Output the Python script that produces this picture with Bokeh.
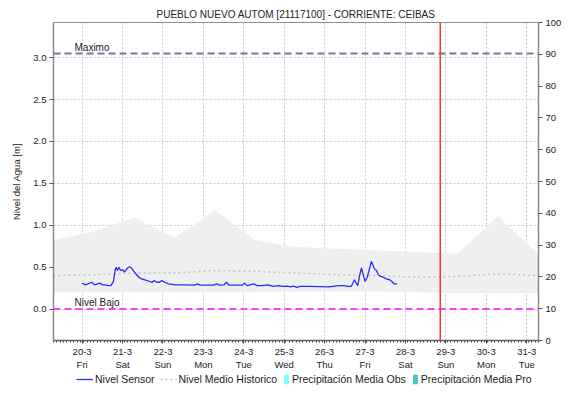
import pandas as pd
from bokeh.plotting import figure
from bokeh.layouts import column
from bokeh.models import (Range1d, LinearAxis, FixedTicker, Span, Label, Legend,
                          LegendItem, ColumnDataSource, NumeralTickFormatter)
from bokeh.embed import file_html
from bokeh.resources import INLINE

# ---------------- data ----------------
TITLE = "PUEBLO NUEVO AUTOM [21117100] - CORRIENTE: CEIBAS"

x_start = "2020-03-19 07:00"
x_end = "2020-03-31 07:00"
y_left_range = (-0.375, 3.42)
y_right_range = (0, 100)

day_ticks = ["2020-03-20", "2020-03-21", "2020-03-22", "2020-03-23", "2020-03-24",
             "2020-03-25", "2020-03-26", "2020-03-27", "2020-03-28", "2020-03-29",
             "2020-03-30", "2020-03-31"]
day_labels = ["20-3\nFri", "21-3\nSat", "22-3\nSun", "23-3\nMon", "24-3\nTue",
              "25-3\nWed", "26-3\nThu", "27-3\nFri", "28-3\nSat", "29-3\nSun",
              "30-3\nMon", "31-3\nTue"]
left_ticks = [0.0, 0.5, 1.0, 1.5, 2.0, 2.5, 3.0]
right_ticks = [0, 10, 20, 30, 40, 50, 60, 70, 80, 90, 100]

sensor_time = [
    "2020-03-20 00:00", "2020-03-20 01:45", "2020-03-20 03:25", "2020-03-20 05:40",
    "2020-03-20 07:25", "2020-03-20 09:05", "2020-03-20 10:30", "2020-03-20 12:00",
    "2020-03-20 13:40", "2020-03-20 15:25", "2020-03-20 17:05", "2020-03-20 18:35",
    "2020-03-20 19:40", "2020-03-20 20:15", "2020-03-20 20:55", "2020-03-20 21:50",
    "2020-03-20 22:50", "2020-03-20 23:55", "2020-03-21 01:05", "2020-03-21 02:10",
    "2020-03-21 03:32", "2020-03-21 04:47", "2020-03-21 05:38", "2020-03-21 07:05",
    "2020-03-21 08:20", "2020-03-21 09:38", "2020-03-21 11:10", "2020-03-21 13:03",
    "2020-03-21 15:54", "2020-03-21 17:37", "2020-03-21 18:45", "2020-03-21 20:28",
    "2020-03-21 21:53", "2020-03-21 23:19", "2020-03-22 01:02", "2020-03-22 03:18",
    "2020-03-22 07:18", "2020-03-22 13:00", "2020-03-22 18:42", "2020-03-22 20:35",
    "2020-03-22 22:08", "2020-03-23 06:07", "2020-03-23 08:00", "2020-03-23 09:32",
    "2020-03-23 12:23", "2020-03-23 13:41", "2020-03-23 15:14", "2020-03-23 23:13",
    "2020-03-24 00:21", "2020-03-24 02:03", "2020-03-24 03:46", "2020-03-24 05:54",
    "2020-03-24 07:47", "2020-03-24 10:38", "2020-03-24 14:26", "2020-03-24 17:17",
    "2020-03-24 20:52", "2020-03-24 22:59", "2020-03-25 01:50", "2020-03-25 03:43",
    "2020-03-25 05:37", "2020-03-25 07:31", "2020-03-25 09:25", "2020-03-25 15:07",
    "2020-03-26 02:31", "2020-03-26 08:13", "2020-03-26 11:04", "2020-03-26 13:55",
    "2020-03-26 15:48", "2020-03-26 17:42", "2020-03-26 18:44", "2020-03-26 19:38",
    "2020-03-26 20:46", "2020-03-26 21:54", "2020-03-26 23:03", "2020-03-27 00:00",
    "2020-03-27 01:19", "2020-03-27 03:46", "2020-03-27 04:44", "2020-03-27 05:41",
    "2020-03-27 06:43", "2020-03-27 07:59", "2020-03-27 09:17", "2020-03-27 10:48",
    "2020-03-27 12:41", "2020-03-27 14:35", "2020-03-27 15:57", "2020-03-27 17:26",
    "2020-03-27 19:00"]
sensor_level = [
    0.31, 0.29, 0.30, 0.32, 0.29, 0.30, 0.31, 0.29,
    0.29, 0.28, 0.28, 0.33, 0.47, 0.50, 0.46, 0.50,
    0.46, 0.47, 0.44, 0.47, 0.50, 0.50, 0.48, 0.44,
    0.41, 0.38, 0.36, 0.35, 0.33, 0.32, 0.34, 0.32,
    0.32, 0.34, 0.32, 0.30, 0.29, 0.29, 0.285, 0.30,
    0.285, 0.285, 0.30, 0.285, 0.29, 0.32, 0.285, 0.285,
    0.31, 0.28, 0.29, 0.30, 0.28, 0.28, 0.29, 0.27,
    0.28, 0.27, 0.275, 0.265, 0.275, 0.26, 0.27, 0.27,
    0.265, 0.28, 0.28, 0.27, 0.27, 0.35, 0.31, 0.28,
    0.40, 0.49, 0.40, 0.33, 0.38, 0.57, 0.52, 0.48,
    0.46, 0.41, 0.39, 0.38, 0.36, 0.35, 0.33, 0.30,
    0.30]

hist_time = ["2020-03-19 07:00", "2020-03-20 07:00", "2020-03-21 07:00", "2020-03-22 07:00",
             "2020-03-23 07:00", "2020-03-24 07:00", "2020-03-25 07:00", "2020-03-26 07:00",
             "2020-03-27 07:00", "2020-03-28 07:00", "2020-03-29 07:00", "2020-03-30 07:00",
             "2020-03-31 07:00"]
hist_upper = [0.82, 0.93, 1.09, 0.85, 1.18, 0.82, 0.74, 0.72, 0.70, 0.68, 0.66, 1.11, 0.65]
hist_lower = [0.20, 0.20, 0.20, 0.20, 0.20, 0.20, 0.21, 0.21, 0.21, 0.20, 0.19, 0.19, 0.19]
hist_median = [0.40, 0.41, 0.43, 0.43, 0.46, 0.45, 0.43, 0.41, 0.40, 0.38, 0.39, 0.42, 0.40]

# daily precipitation (mm) - none recorded / forecast in this window
precip_obs_time = ["2020-03-20", "2020-03-21", "2020-03-22", "2020-03-23", "2020-03-24",
                   "2020-03-25", "2020-03-26", "2020-03-27", "2020-03-28"]
precip_obs = [0, 0, 0, 0, 0, 0, 0, 0, 0]
precip_pro_time = ["2020-03-29", "2020-03-30", "2020-03-31"]
precip_pro = [0, 0, 0]

nivel_maximo = 3.05
nivel_bajo = 0.0
now_time = "2020-03-28 20:40"

# ---------------- figure ----------------
FONT = "Liberation Sans"
ts = pd.to_datetime
W = 564

p = figure(width=W, height=372, x_axis_type="datetime",
           x_range=Range1d(ts(x_start), ts(x_end)),
           y_range=Range1d(*y_left_range),
           output_backend="svg", toolbar_location=None,
           min_border_left=53, min_border_right=23, min_border_top=22, min_border_bottom=0,
           background_fill_color="white", border_fill_color="white")
p.extra_y_ranges = {"pct": Range1d(*y_right_range)}

p.title.text = TITLE
p.title.align = "center"
p.title.text_font = FONT
p.title.text_font_size = "10px"
p.title.text_font_style = "normal"
p.title.text_color = "#222222"
p.title.standoff = 6

p.outline_line_color = "#8c8c8c"
p.outline_line_width = 1

# band and median
hsrc = ColumnDataSource(dict(t=ts(hist_time), lo=hist_lower, hi=hist_upper, med=hist_median))
p.varea(x="t", y1="lo", y2="hi", source=hsrc, fill_color="#efefef")
med_style = dict(line_color="#c4c4c4", line_width=1.5, line_dash="2 3")
p.line(x="t", y="med", source=hsrc, **med_style)

# ticks / grid
ms_ticks = [int(ts(d).value // 10**6) for d in day_ticks]
minor = []
t = ts(x_start)
while t <= ts(x_end):
    minor.append(int(t.value // 10**6))
    t += pd.Timedelta(hours=2)

p.xaxis.ticker = FixedTicker(ticks=ms_ticks, minor_ticks=minor)
p.xaxis.major_label_overrides = {k: v for k, v in zip(ms_ticks, day_labels)}
p.yaxis.ticker = FixedTicker(ticks=left_ticks)
p.yaxis.formatter = NumeralTickFormatter(format="0.0")

for g in (p.xgrid, p.ygrid):
    g.grid_line_color = "#c8c8c8"
    g.grid_line_dash = "2 2"
    g.grid_line_width = 1

# threshold lines
p.add_layout(Span(location=nivel_maximo, dimension="width", line_color="#6b7aa6",
                  line_width=2, line_dash="7 4"))
p.add_layout(Span(location=nivel_bajo, dimension="width", line_color="#ff3cff",
                  line_width=2, line_dash="7 4"))
p.add_layout(Label(x=21, x_units="screen", y=nivel_maximo, y_offset=1, text="Maximo",
                   text_font=FONT, text_font_size="10px", text_baseline="bottom",
                   text_color="#222222"))
p.add_layout(Label(x=21, x_units="screen", y=nivel_bajo, y_offset=1, text="Nivel Bajo",
                   text_font=FONT, text_font_size="10px", text_baseline="bottom",
                   text_color="#222222"))

# sensor
ssrc = ColumnDataSource(dict(t=ts(sensor_time), v=sensor_level))
sens_style = dict(line_color="#2b2bff", line_width=1.3)
p.line(x="t", y="v", source=ssrc, **sens_style)

# now line
p.add_layout(Span(location=ts(now_time), dimension="height", line_color="#ff3333",
                  line_width=1.5))

# precipitation bars (right axis)
osrc = ColumnDataSource(dict(t=ts(precip_obs_time), h=precip_obs))
psrc = ColumnDataSource(dict(t=ts(precip_pro_time), h=precip_pro))
obs_style = dict(fill_color="#7ffcff", line_color=None)
pro_style = dict(fill_color="#44c9c9", line_color=None)
p.vbar(x="t", top="h", width=3 * 3600000, source=osrc, y_range_name="pct", **obs_style)
p.vbar(x="t", top="h", width=3 * 3600000, source=psrc, y_range_name="pct", **pro_style)

# axes styling
right = LinearAxis(y_range_name="pct", ticker=FixedTicker(ticks=right_ticks))
p.add_layout(right, "right")

for ax in (p.yaxis[0], right):
    ax.axis_line_color = "#8c8c8c"
    ax.axis_line_width = 1.5
    ax.major_tick_line_color = "#555555"
    ax.major_tick_out = 4
    ax.major_tick_in = 0
    ax.minor_tick_out = 0
    ax.minor_tick_in = 0
    ax.major_label_text_font = FONT
    ax.major_label_text_font_size = "9.5px"
    ax.major_label_text_color = "#222222"
    ax.major_label_standoff = 3

p.yaxis[0].axis_label = "Nivel del Agua [m]"
p.yaxis[0].axis_label_text_font = FONT
p.yaxis[0].axis_label_text_font_size = "9.5px"
p.yaxis[0].axis_label_text_font_style = "normal"
p.yaxis[0].axis_label_text_color = "#222222"
p.yaxis[0].axis_label_standoff = 8

xa = p.xaxis[0]
xa.axis_line_color = "#666666"
xa.axis_line_width = 1.5
xa.major_tick_out = 3
xa.major_tick_in = 0
xa.major_tick_line_color = "#444444"
xa.minor_tick_out = 2
xa.minor_tick_in = 0
xa.minor_tick_line_color = "#444444"
xa.major_label_text_font = FONT
xa.major_label_text_font_size = "9.5px"
xa.major_label_text_color = "#222222"
xa.major_label_standoff = 2

# ---------------- legend strip ----------------
lf = figure(width=W, height=14, x_axis_type="datetime", x_range=p.x_range,
            y_range=Range1d(100, 101), output_backend="svg", toolbar_location=None,
            x_axis_location=None, y_axis_location=None, min_border=0,
            outline_line_color=None, background_fill_color="white",
            border_fill_color="white")
lf.xgrid.visible = False
lf.ygrid.visible = False
l_sens = lf.line(x="t", y="v", source=ssrc, **sens_style)
l_med = lf.line(x="t", y="med", source=hsrc, **med_style)
l_obs = lf.vbar(x="t", top="h", width=3 * 3600000, source=osrc, **obs_style)
l_pro = lf.vbar(x="t", top="h", width=3 * 3600000, source=psrc, **pro_style)

common = dict(orientation="horizontal", label_text_font=FONT, label_text_font_size="10.5px",
              label_text_color="#222222", glyph_height=12, label_height=12,
              padding=0, margin=0, border_line_alpha=0, background_fill_alpha=0)
leg_lines = Legend(items=[LegendItem(label="Nivel Sensor", renderers=[l_sens]),
                          LegendItem(label="Nivel Medio Historico", renderers=[l_med])],
                   location=(23, 1), glyph_width=17, label_standoff=2, spacing=5, **common)
leg_bars = Legend(items=[LegendItem(label="Precipitación Media Obs", renderers=[l_obs]),
                         LegendItem(label="Precipitación Media Pro", renderers=[l_pro])],
                  location=(230, 1), glyph_width=6, label_standoff=3, spacing=6, **common)
lf.add_layout(leg_lines)
lf.add_layout(leg_bars)

layout = column(p, lf, spacing=0)
open("out.html", "w").write(file_html(layout, INLINE))
